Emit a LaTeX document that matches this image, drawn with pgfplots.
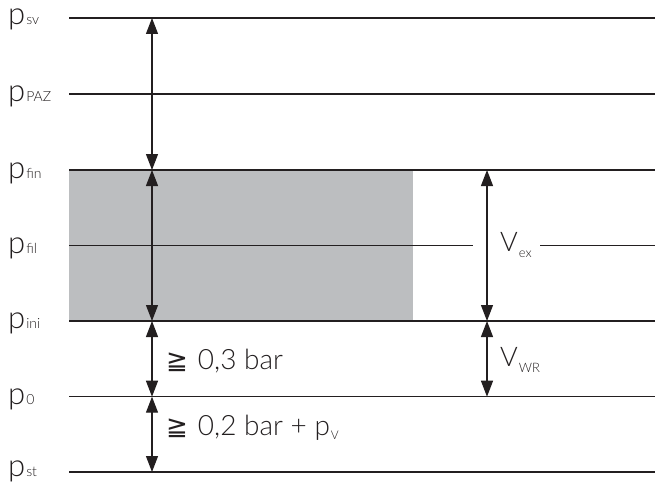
\documentclass[border=0pt]{standalone}
\usepackage{fontspec}
\setmainfont{Lato}[UprightFont={* Light}]
\newfontfamily\dejavu{DejaVu Sans}
\usepackage{pgfplots}
\pgfplotsset{compat=1.18}
\usetikzlibrary{arrows.meta}
\definecolor{ink}{HTML}{231F20}
\definecolor{fillgray}{HTML}{BCBEC0}
\newcommand{\plab}[2]{{\fontsize{31bp}{31bp}\selectfont #1}\kern1bp{\fontsize{14bp}{14bp}\selectfont #2}}
\newcommand{\vlab}[2]{{\fontsize{27bp}{27bp}\selectfont #1}\kern1bp\raisebox{-6bp}{\fontsize{13bp}{13bp}\selectfont #2}}
\newcommand{\geqq}{{\dejavu\fontsize{26bp}{26bp}\selectfont ≧}}
\begin{document}
\begin{tikzpicture}
\begin{axis}[width=662bp,height=484bp,scale only axis,
  xmin=0,xmax=662,ymin=0,ymax=484,y dir=reverse,hide axis,clip=false]
% shaded volume
\addplot[fill=fillgray,draw=none] coordinates {(69,170) (413,170) (413,321) (69,321)} -- cycle;
% pressure levels
\addplot[ink,line width=1.2bp] coordinates {(69,18) (655,18)};
\addplot[ink,line width=1.2bp] coordinates {(69,94) (655,94)};
\addplot[ink,line width=1.2bp] coordinates {(69,170) (655,170)};
\addplot[ink,line width=1.2bp] coordinates {(69,245.7) (473,245.7)};
\addplot[ink,line width=1.2bp] coordinates {(540,245.7) (655,245.7)};
\addplot[ink,line width=1.2bp] coordinates {(69,321) (655,321)};
\addplot[ink,line width=1.2bp] coordinates {(69,396.7) (655,396.7)};
\addplot[ink,line width=1.2bp] coordinates {(69,472) (655,472)};
% arrows
\addplot[ink,line width=1.2bp,{Triangle[length=16bp,width=12bp]}-{Triangle[length=16bp,width=12bp]}] coordinates {(152,18) (152,170)};
\addplot[ink,line width=1.2bp,{Triangle[length=16bp,width=12bp]}-{Triangle[length=16bp,width=12bp]}] coordinates {(152,170) (152,321)};
\addplot[ink,line width=1.2bp,{Triangle[length=16bp,width=12bp]}-{Triangle[length=16bp,width=12bp]}] coordinates {(152,321) (152,396.7)};
\addplot[ink,line width=1.2bp,{Triangle[length=16bp,width=12bp]}-{Triangle[length=16bp,width=12bp]}] coordinates {(152,396.7) (152,472)};
\addplot[ink,line width=1.2bp,{Triangle[length=16bp,width=12bp]}-{Triangle[length=16bp,width=12bp]}] coordinates {(487,170) (487,321)};
\addplot[ink,line width=1.2bp,{Triangle[length=16bp,width=12bp]}-{Triangle[length=16bp,width=12bp]}] coordinates {(487,321) (487,396.7)};
% level labels
\node[anchor=base west,inner sep=0,text=ink] at (axis cs:8,25) {\plab{p}{sv}};
\node[anchor=base west,inner sep=0,text=ink] at (axis cs:8,102) {\plab{p}{PAZ}};
\node[anchor=base west,inner sep=0,text=ink] at (axis cs:8,178) {\plab{p}{fin}};
\node[anchor=base west,inner sep=0,text=ink] at (axis cs:8,253) {\plab{p}{fil}};
\node[anchor=base west,inner sep=0,text=ink] at (axis cs:8,328) {\plab{p}{ini}};
\node[anchor=base west,inner sep=0,text=ink] at (axis cs:8,404) {\plab{p}{0}};
\node[anchor=base west,inner sep=0,text=ink] at (axis cs:8,476) {\plab{p}{st}};
% interval labels
\node[anchor=base west,inner sep=0,text=ink] at (axis cs:166,369) {\geqq\kern10bp{\fontsize{28bp}{28bp}\selectfont 0,3 bar}};
\node[anchor=base west,inner sep=0,text=ink] at (axis cs:166,435) {\geqq\kern10bp{\fontsize{28bp}{28bp}\selectfont 0,2 bar + p}\kern1bp\raisebox{-4bp}{\fontsize{12bp}{12bp}\selectfont V}};
\node[anchor=base west,inner sep=0,text=ink] at (axis cs:500,251) {\vlab{V}{ex}};
\node[anchor=base west,inner sep=0,text=ink] at (axis cs:500,366) {\vlab{V}{WR}};
\end{axis}
\pgfresetboundingbox
\path (current axis.south west) rectangle (current axis.north east);
\end{tikzpicture}
\end{document}
